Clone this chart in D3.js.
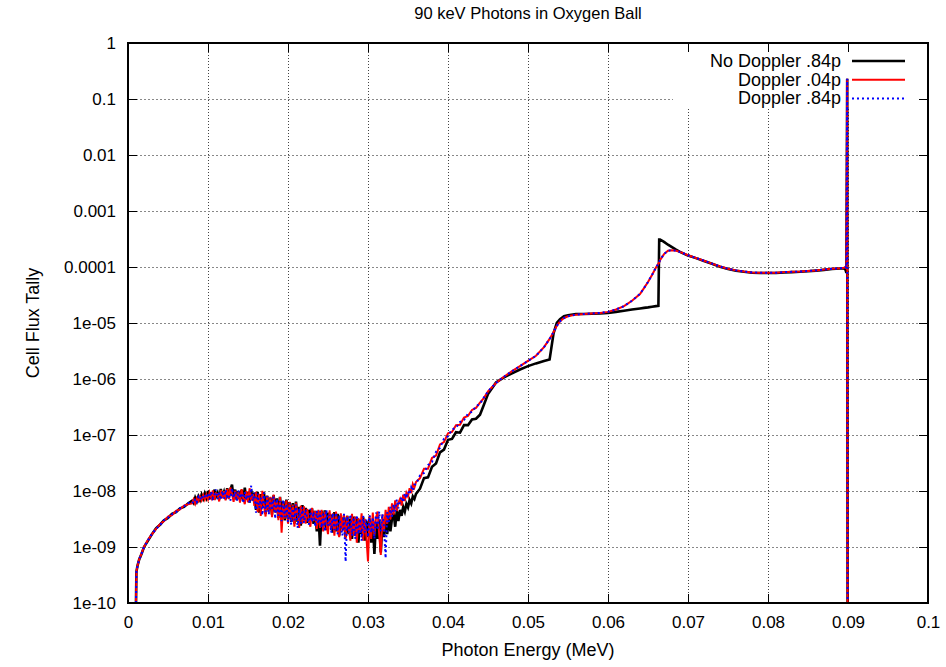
<!DOCTYPE html>
<html>
<head>
<meta charset="utf-8">
<script src="https://cdn.jsdelivr.net/npm/d3@7"></script>
<style>
body { margin: 0; background: #fff; }
svg { display: block; font-family: "Liberation Sans", Arial, Helvetica, sans-serif; }
</style>
</head>
<body>
<script>
//////////////////////////////////////////////// DATA ////////////////////////////////////////////////

// photon energy (MeV) of each tally point
var energy = [
    // low end
    0.0010, 0.00105, 0.0012, 0.0014, 0.0017, 0.0020, 0.0025, 0.0030, 0.0035, 0.0040,
    0.0045, 0.0050, 0.0055, 0.0060, 0.0065, 0.0070, 0.0075,
    // noisy region
    0.0080, 0.0082, 0.0084, 0.0086, 0.0088, 0.0090, 0.0092, 0.0094, 0.0096, 0.0098,
    0.0100, 0.0102, 0.0104, 0.0106, 0.0108, 0.0110, 0.0112, 0.0114, 0.0116, 0.0118,
    0.0120, 0.0122, 0.0124, 0.0126, 0.0128, 0.0130, 0.0132, 0.0134, 0.0136, 0.0138,
    0.0140, 0.0142, 0.0144, 0.0146, 0.0148, 0.0150, 0.0152, 0.0154, 0.0156, 0.0158,
    0.0160, 0.0162, 0.0164, 0.0166, 0.0168, 0.0170, 0.0172, 0.0174, 0.0176, 0.0178,
    0.0180, 0.0182, 0.0184, 0.0186, 0.0188, 0.0190, 0.0192, 0.0194, 0.0196, 0.0198,
    0.0200, 0.0202, 0.0204, 0.0206, 0.0208, 0.0210, 0.0212, 0.0214, 0.0216, 0.0218,
    0.0220, 0.0222, 0.0224, 0.0226, 0.0228, 0.0230, 0.0232, 0.0234, 0.0236, 0.0238,
    0.0240, 0.0242, 0.0244, 0.0246, 0.0248, 0.0250, 0.0252, 0.0254, 0.0256, 0.0258,
    0.0260, 0.0262, 0.0264, 0.0266, 0.0268, 0.0270, 0.0272, 0.0274, 0.0276, 0.0278,
    0.0280, 0.0282, 0.0284, 0.0286, 0.0288, 0.0290, 0.0292, 0.0294, 0.0296, 0.0298,
    0.0300, 0.0302, 0.0304, 0.0306, 0.0308, 0.0310, 0.0312, 0.0314, 0.0316, 0.0318,
    0.0320, 0.0322, 0.0324, 0.0326, 0.0328, 0.0330, 0.0332, 0.0334, 0.0336, 0.0338,
    0.0340, 0.0342, 0.0344, 0.0346, 0.0348, 0.0350, 0.0352, 0.0354, 0.0356, 0.0358,
    0.0360,
    // rise
    0.0365, 0.0370, 0.0375, 0.0380, 0.0385, 0.0390, 0.0395, 0.0400, 0.0405, 0.0410,
    0.0415, 0.0420, 0.0425, 0.0430, 0.0435, 0.0440, 0.0445, 0.0450,
    // smooth part up to the source line
    0.046, 0.047, 0.048, 0.049, 0.050, 0.051, 0.052, 0.0527, 0.0532, 0.0536,
    0.054, 0.0545, 0.055, 0.056, 0.057, 0.058, 0.059, 0.060, 0.061, 0.062,
    0.063, 0.064, 0.0645, 0.065, 0.0655, 0.066, 0.0663, 0.0664, 0.0665, 0.067,
    0.0675, 0.068, 0.0685, 0.069, 0.070, 0.071, 0.072, 0.073, 0.074, 0.075,
    0.076, 0.077, 0.078, 0.079, 0.080, 0.081, 0.082, 0.083, 0.084, 0.085,
    0.086, 0.087, 0.088, 0.089, 0.0895, 0.0897, 0.0898, 0.0899, 0.08995
];

var noDoppler = [
    1e-10, 3.6e-10, 4.7e-10, 6.0e-10, 7.6e-10, 1.0e-9, 1.3e-9, 1.7e-9, 2.15e-9, 2.5e-9,
    3.0e-9, 3.3e-9, 3.9e-9, 4.2e-9, 4.9e-9, 5.2e-9, 6.0e-9,

    6.7e-9, 6.1e-9, 7.6e-9, 6.5e-9, 8.0e-9, 6.9e-9, 8.6e-9, 7.3e-9, 9.1e-9, 7.6e-9,
    10.0e-9, 7.3e-9, 9.5e-9, 7.0e-9, 10.6e-9, 8.0e-9, 9.3e-9, 7.1e-9, 10.9e-9, 7.8e-9,
    9.6e-9, 7.2e-9, 11.2e-9, 7.6e-9, 10.4e-9, 13.0e-9, 7.4e-9, 10.6e-9, 6.9e-9, 9.9e-9,
    7.2e-9, 10.4e-9, 6.6e-9, 11.5e-9, 7.0e-9, 9.6e-9, 6.2e-9, 10.2e-9, 6.8e-9, 9.3e-9,
    4.6e-9, 9.7e-9, 4.1e-9, 8.8e-9, 5.0e-9, 9.5e-9, 3.9e-9, 8.2e-9, 4.5e-9, 7.6e-9,
    3.8e-9, 8.4e-9, 4.2e-9, 7.4e-9, 3.3e-9, 7.9e-9, 3.5e-9, 6.6e-9, 3.0e-9, 7.0e-9,
    3.2e-9, 6.3e-9, 2.8e-9, 6.1e-9, 2.6e-9, 6.5e-9, 2.8e-9, 5.2e-9, 2.4e-9, 5.6e-9,
    3.0e-9, 5.0e-9, 2.7e-9, 4.6e-9, 3.3e-9, 4.9e-9, 2.6e-9, 4.4e-9, 1.9e-9, 4.2e-9,
    1.05e-9, 4.4e-9, 2.3e-9, 4.5e-9, 2.0e-9, 4.1e-9, 2.4e-9, 3.8e-9, 1.8e-9, 4.2e-9,
    1.9e-9, 3.9e-9, 1.6e-9, 3.7e-9, 2.1e-9, 3.4e-9, 1.5e-9, 3.6e-9, 1.7e-9, 3.2e-9,
    1.4e-9, 3.5e-9, 1.6e-9, 3.2e-9, 1.2e-9, 3.1e-9, 1.7e-9, 3.4e-9, 1.3e-9, 2.9e-9,
    1.5e-9, 3.2e-9, 1.2e-9, 3.0e-9, 0.75e-9, 2.8e-9, 1.4e-9, 3.1e-9, 0.8e-9, 2.7e-9,
    1.5e-9, 3.3e-9, 1.7e-9, 3.6e-9, 1.9e-9, 3.2e-9, 4.0e-9, 2.3e-9, 4.4e-9, 2.9e-9,
    4.6e-9, 3.6e-9, 5.2e-9, 4.3e-9, 5.9e-9, 5.1e-9, 6.9e-9, 6.0e-9, 8.0e-9, 7.2e-9,
    8.9e-9,

    1.1e-8, 1.7e-8, 1.75e-8, 2.7e-8, 3.1e-8, 4.9e-8, 5.5e-8, 8.2e-8, 8.5e-8, 1.12e-7,
    1.1e-7, 1.5e-7, 1.5e-7, 1.9e-7, 1.95e-7, 2.3e-7, 3.5e-7, 5.4e-7,

    8.7e-7, 1.07e-6, 1.26e-6, 1.48e-6, 1.7e-6, 1.9e-6, 2.1e-6, 2.24e-6, 6.6e-6, 1.0e-5,
    1.17e-5, 1.32e-5, 1.38e-5, 1.45e-5, 1.45e-5, 1.46e-5, 1.48e-5, 1.51e-5, 1.58e-5, 1.66e-5,
    1.74e-5, 1.82e-5, 1.86e-5, 1.9e-5, 1.95e-5, 2.0e-5, 2.02e-5, 3.1e-4, 3.1e-4, 2.8e-4,
    2.5e-4, 2.26e-4, 2.04e-4, 1.86e-4, 1.6e-4, 1.44e-4, 1.28e-4, 1.14e-4, 1.01e-4, 9.2e-5,
    8.6e-5, 8.2e-5, 7.9e-5, 7.8e-5, 7.8e-5, 7.8e-5, 8.0e-5, 8.1e-5, 8.2e-5, 8.4e-5,
    8.6e-5, 8.9e-5, 9.2e-5, 9.4e-5, 9.4e-5, 8.9e-5, 7.8e-5, 0.23, 1e-10
];

var doppler04 = [
    1e-10, 3.6e-10, 4.7e-10, 6.0e-10, 7.7e-10, 1.0e-9, 1.35e-9, 1.7e-9, 2.1e-9, 2.55e-9,
    2.9e-9, 3.5e-9, 3.7e-9, 4.4e-9, 4.7e-9, 5.5e-9, 5.8e-9,

    6.0e-9, 7.1e-9, 5.9e-9, 7.4e-9, 6.6e-9, 7.9e-9, 6.8e-9, 8.4e-9, 7.0e-9, 8.6e-9,
    7.1e-9, 9.4e-9, 7.6e-9, 10.2e-9, 6.9e-9, 9.1e-9, 8.8e-9, 6.5e-9, 10.4e-9, 7.4e-9,
    9.9e-9, 6.8e-9, 10.9e-9, 7.2e-9, 11.6e-9, 8.9e-9, 6.4e-9, 10.1e-9, 7.0e-9, 9.6e-9,
    6.2e-9, 10.8e-9, 7.4e-9, 5.8e-9, 9.9e-9, 6.3e-9, 11.2e-9, 6.9e-9, 8.8e-9, 5.4e-9,
    9.7e-9, 4.2e-9, 8.9e-9, 3.6e-9, 10.1e-9, 5.4e-9, 3.5e-9, 8.3e-9, 4.1e-9, 7.9e-9,
    3.4e-9, 8.6e-9, 4.1e-9, 6.9e-9, 3.0e-9, 7.8e-9, 1.8e-9, 6.1e-9, 3.2e-9, 6.8e-9,
    2.6e-9, 6.4e-9, 2.9e-9, 5.7e-9, 2.3e-9, 6.2e-9, 3.7e-9, 2.2e-9, 5.5e-9, 2.6e-9,
    5.3e-9, 2.6e-9, 4.8e-9, 3.1e-9, 2.3e-9, 5.0e-9, 2.9e-9, 4.4e-9, 2.1e-9, 4.6e-9,
    2.2e-9, 4.6e-9, 1.9e-9, 4.3e-9, 2.6e-9, 1.7e-9, 4.5e-9, 2.0e-9, 4.0e-9, 1.6e-9,
    4.3e-9, 2.1e-9, 1.5e-9, 4.0e-9, 1.9e-9, 3.8e-9, 1.4e-9, 3.6e-9, 2.2e-9, 1.3e-9,
    3.9e-9, 1.6e-9, 3.5e-9, 1.2e-9, 3.3e-9, 1.8e-9, 4.0e-9, 1.3e-9, 3.2e-9, 1.5e-9,
    0.55e-9, 3.6e-9, 1.4e-9, 4.1e-9, 1.6e-9, 3.3e-9, 4.3e-9, 1.7e-9, 0.72e-9, 3.8e-9,
    1.9e-9, 4.6e-9, 2.6e-9, 5.2e-9, 3.1e-9, 6.0e-9, 3.8e-9, 6.8e-9, 4.4e-9, 6.2e-9,
    7.2e-9, 5.5e-9, 8.6e-9, 6.6e-9, 9.3e-9, 8.0e-9, 11.2e-9, 9.1e-9, 13.4e-9, 11.5e-9,
    14.5e-9,

    1.7e-8, 2.5e-8, 2.5e-8, 3.9e-8, 4.3e-8, 6.8e-8, 7.5e-8, 1.07e-7, 1.13e-7, 1.5e-7,
    1.52e-7, 2.05e-7, 2.2e-7, 2.8e-7, 3.05e-7, 3.8e-7, 4.6e-7, 6.0e-7,

    8.5e-7, 1.1e-6, 1.38e-6, 1.7e-6, 2.1e-6, 2.6e-6, 3.7e-6, 5.2e-6, 6.9e-6, 8.9e-6,
    1.07e-5, 1.23e-5, 1.32e-5, 1.41e-5, 1.45e-5, 1.48e-5, 1.51e-5, 1.58e-5, 1.74e-5, 2.0e-5,
    2.5e-5, 3.3e-5, 4.2e-5, 5.4e-5, 7.2e-5, 9.8e-5, 1.15e-4, 1.2e-4, 1.32e-4, 1.7e-4,
    1.95e-4, 2.0e-4, 1.95e-4, 1.86e-4, 1.62e-4, 1.45e-4, 1.29e-4, 1.15e-4, 1.02e-4, 9.3e-5,
    8.7e-5, 8.3e-5, 8.0e-5, 7.9e-5, 7.9e-5, 7.9e-5, 8.1e-5, 8.2e-5, 8.3e-5, 8.5e-5,
    8.7e-5, 9.0e-5, 9.3e-5, 9.5e-5, 9.7e-5, 1.0e-4, 9.5e-5, 0.23, 1e-10
];

var doppler84 = [
    1e-10, 3.6e-10, 4.7e-10, 6.0e-10, 7.6e-10, 1.0e-9, 1.32e-9, 1.72e-9, 2.1e-9, 2.45e-9,
    3.0e-9, 3.35e-9, 3.85e-9, 4.2e-9, 4.9e-9, 5.3e-9, 6.0e-9,

    6.5e-9, 6.0e-9, 7.3e-9, 6.4e-9, 7.8e-9, 6.9e-9, 8.3e-9, 7.2e-9, 8.1e-9, 7.5e-9,
    9.2e-9, 7.0e-9, 9.9e-9, 7.4e-9, 8.5e-9, 10.6e-9, 7.2e-9, 9.3e-9, 7.0e-9, 10.0e-9,
    7.3e-9, 10.5e-9, 7.8e-9, 8.4e-9, 6.7e-9, 11.3e-9, 7.5e-9, 9.8e-9, 6.6e-9, 10.2e-9,
    7.4e-9, 9.2e-9, 6.1e-9, 9.6e-9, 7.0e-9, 8.8e-9, 5.9e-9, 12.5e-9, 6.6e-9, 9.4e-9,
    4.1e-9, 9.0e-9, 5.0e-9, 7.6e-9, 3.7e-9, 9.4e-9, 4.2e-9, 8.1e-9, 3.8e-9, 7.4e-9,
    4.5e-9, 7.9e-9, 3.2e-9, 7.3e-9, 3.6e-9, 6.6e-9, 2.9e-9, 7.0e-9, 3.4e-9, 5.9e-9,
    2.8e-9, 6.0e-9, 2.5e-9, 5.4e-9, 3.0e-9, 5.8e-9, 2.2e-9, 4.9e-9, 2.6e-9, 5.1e-9,
    2.7e-9, 4.6e-9, 3.4e-9, 2.5e-9, 4.8e-9, 2.8e-9, 4.2e-9, 2.3e-9, 4.4e-9, 2.6e-9,
    4.4e-9, 2.2e-9, 4.2e-9, 1.9e-9, 4.6e-9, 2.4e-9, 3.8e-9, 1.8e-9, 4.0e-9, 2.0e-9,
    4.1e-9, 1.7e-9, 3.7e-9, 2.3e-9, 1.6e-9, 3.9e-9, 0.55e-9, 3.5e-9, 1.8e-9, 3.8e-9,
    1.6e-9, 3.4e-9, 1.4e-9, 3.7e-9, 1.7e-9, 3.2e-9, 1.3e-9, 3.6e-9, 1.8e-9, 3.1e-9,
    1.5e-9, 3.7e-9, 1.8e-9, 3.4e-9, 1.4e-9, 4.1e-9, 2.0e-9, 4.3e-9, 1.9e-9, 3.9e-9,
    2.3e-9, 0.63e-9, 4.2e-9, 2.8e-9, 5.2e-9, 3.5e-9, 5.8e-9, 4.3e-9, 7.0e-9, 4.9e-9,
    6.4e-9, 7.9e-9, 6.3e-9, 9.1e-9, 7.4e-9, 9.8e-9, 8.7e-9, 11.6e-9, 10.1e-9, 12.9e-9,
    13.2e-9,

    1.9e-8, 2.1e-8, 2.9e-8, 3.3e-8, 5.0e-8, 5.9e-8, 8.6e-8, 9.5e-8, 1.25e-7, 1.35e-7,
    1.7e-7, 1.85e-7, 2.4e-7, 2.6e-7, 3.25e-7, 3.6e-7, 4.7e-7, 6.0e-7,

    8.5e-7, 1.1e-6, 1.38e-6, 1.7e-6, 2.1e-6, 2.6e-6, 3.7e-6, 5.2e-6, 6.9e-6, 8.9e-6,
    1.07e-5, 1.23e-5, 1.32e-5, 1.41e-5, 1.45e-5, 1.48e-5, 1.51e-5, 1.58e-5, 1.74e-5, 2.0e-5,
    2.5e-5, 3.3e-5, 4.2e-5, 5.4e-5, 7.2e-5, 9.8e-5, 1.15e-4, 1.2e-4, 1.32e-4, 1.7e-4,
    1.95e-4, 2.0e-4, 1.95e-4, 1.86e-4, 1.62e-4, 1.45e-4, 1.29e-4, 1.15e-4, 1.02e-4, 9.3e-5,
    8.7e-5, 8.3e-5, 8.0e-5, 7.9e-5, 7.9e-5, 7.9e-5, 8.1e-5, 8.2e-5, 8.3e-5, 8.5e-5,
    8.7e-5, 9.0e-5, 9.3e-5, 9.5e-5, 9.7e-5, 1.0e-4, 9.5e-5, 0.23, 1e-10
];

var seriesNames = ["No Doppler .84p", "Doppler .04p", "Doppler .84p"];

var xTicks = [0, 0.01, 0.02, 0.03, 0.04, 0.05, 0.06, 0.07, 0.08, 0.09, 0.1];
var xTickLabels = ["0", "0.01", "0.02", "0.03", "0.04", "0.05", "0.06", "0.07", "0.08", "0.09", "0.1"];
var yTicks = [1, 0.1, 0.01, 0.001, 1e-4, 1e-5, 1e-6, 1e-7, 1e-8, 1e-9, 1e-10];
var yTickLabels = ["1", "0.1", "0.01", "0.001", "0.0001", "1e-05", "1e-06", "1e-07", "1e-08", "1e-09", "1e-10"];

//////////////////////////////////////////////// SETUP ////////////////////////////////////////////////
var width = 946,
    height = 667,
    plotLeft = 128,
    plotRight = 928,
    plotTop = 43,
    plotBottom = 603,
    tickLen = 9,
    fontSize = "17px";

var svg = d3.select("body").append("svg")
    .attr("width", width)
    .attr("height", height);

var x = d3.scaleLinear().domain([0, 0.1]).range([plotLeft, plotRight]);
var y = d3.scaleLog().domain([1e-10, 1]).range([plotBottom, plotTop]);

function zipSeries(values) {
    if (values.length != energy.length) console.warn("length mismatch", values.length, energy.length);
    var n = Math.min(values.length, energy.length);
    var pts = [];
    for (var i = 0; i < n; i++) pts.push([energy[i], values[i]]);
    return pts;
}

var series = [
    { name: seriesNames[0], points: zipSeries(noDoppler), color: "#000", width: 2.6, dash: null },
    { name: seriesNames[1], points: zipSeries(doppler04), color: "#ff0000", width: 2, dash: null },
    { name: seriesNames[2], points: zipSeries(doppler84), color: "#0000ff", width: 2, dash: "2,3" }
];

//////////////////////////////////////////////// GRID ////////////////////////////////////////////////
var grid = svg.append("g");
grid.selectAll(".vgrid")
    .data(xTicks.slice(1, -1))
    .enter().append("line")
    .attr("x1", function (d) { return Math.round(x(d)) + 0.5; })
    .attr("x2", function (d) { return Math.round(x(d)) + 0.5; })
    .attr("y1", plotTop).attr("y2", plotBottom)
    .attr("stroke", "#444")
    .attr("stroke-width", 1)
    .attr("stroke-dasharray", "1,2");
grid.selectAll(".hgrid")
    .data(yTicks.slice(1, -1))
    .enter().append("line")
    .attr("x1", plotLeft).attr("x2", plotRight)
    .attr("y1", function (d) { return Math.round(y(d)) + 0.5; })
    .attr("y2", function (d) { return Math.round(y(d)) + 0.5; })
    .attr("stroke", "#888")
    .attr("stroke-width", 1)
    .attr("stroke-dasharray", "2,2");

// key background hides the grid behind it
svg.append("rect")
    .attr("x", 673).attr("y", plotTop)
    .attr("width", plotRight - 673).attr("height", 108 - plotTop)
    .attr("fill", "#fff");

//////////////////////////////////////////////// AXES ////////////////////////////////////////////////
function styleAxis(g) {
    g.select(".domain").remove();
    g.selectAll(".tick line").attr("stroke", "#000").attr("stroke-width", 1);
    g.selectAll(".tick text").attr("font-size", fontSize).attr("fill", "#000")
        .attr("font-family", "Liberation Sans, Arial, Helvetica, sans-serif");
}

svg.append("g")
    .attr("transform", "translate(" + plotLeft + ",0)")
    .call(d3.axisLeft(y).tickValues(yTicks).tickSize(-tickLen).tickPadding(12)
        .tickFormat(function (d, i) { return yTickLabels[i]; }))
    .call(styleAxis);

svg.append("g")
    .attr("transform", "translate(" + plotRight + ",0)")
    .call(d3.axisRight(y).tickValues(yTicks).tickSize(-tickLen).tickFormat(""))
    .call(styleAxis);

svg.append("g")
    .attr("transform", "translate(0," + plotBottom + ")")
    .call(d3.axisBottom(x).tickValues(xTicks).tickSize(-tickLen).tickPadding(13)
        .tickFormat(function (d, i) { return xTickLabels[i]; }))
    .call(styleAxis);

svg.append("g")
    .attr("transform", "translate(0," + plotTop + ")")
    .call(d3.axisTop(x).tickValues(xTicks).tickSize(-tickLen).tickFormat(""))
    .call(styleAxis);

//////////////////////////////////////////////// LINES ////////////////////////////////////////////////
svg.append("clipPath").attr("id", "plotclip")
    .append("rect")
    .attr("x", plotLeft).attr("y", plotTop - 1)
    .attr("width", plotRight - plotLeft).attr("height", plotBottom - plotTop + 1);

var line = d3.line()
    .x(function (d) { return x(d[0]); })
    .y(function (d) { return y(Math.max(d[1], 1e-10)); });

svg.append("g")
    .attr("clip-path", "url(#plotclip)")
    .selectAll("path")
    .data(series)
    .enter().append("path")
    .attr("d", function (d) { return line(d.points); })
    .attr("fill", "none")
    .attr("stroke", function (d) { return d.color; })
    .attr("stroke-width", function (d) { return d.width; })
    .attr("stroke-dasharray", function (d) { return d.dash; });

// border
svg.append("rect")
    .attr("x", plotLeft).attr("y", plotTop)
    .attr("width", plotRight - plotLeft).attr("height", plotBottom - plotTop)
    .attr("fill", "none")
    .attr("stroke", "#000")
    .attr("stroke-width", 2);

//////////////////////////////////////////////// KEY ////////////////////////////////////////////////
var key = svg.append("g");
var keyRows = key.selectAll("g")
    .data(series)
    .enter().append("g")
    .attr("transform", function (d, i) { return "translate(0," + (61 + i * 18.7) + ")"; });
keyRows.append("text")
    .attr("x", 841)
    .attr("y", 6)
    .attr("text-anchor", "end")
    .attr("font-size", "18px")
    .text(function (d) { return d.name; });
keyRows.append("line")
    .attr("x1", 852).attr("x2", 905)
    .attr("y1", 0).attr("y2", 0)
    .attr("stroke", function (d) { return d.color; })
    .attr("stroke-width", function (d) { return d.width; })
    .attr("stroke-dasharray", function (d) { return d.dash; });

//////////////////////////////////////////////// LABELS ////////////////////////////////////////////////
svg.append("text")
    .attr("x", (plotLeft + plotRight) / 2)
    .attr("y", 19)
    .attr("text-anchor", "middle")
    .attr("font-size", "16.5px")
    .text("90 keV Photons in Oxygen Ball");

svg.append("text")
    .attr("x", (plotLeft + plotRight) / 2)
    .attr("y", 656)
    .attr("text-anchor", "middle")
    .attr("font-size", "18px")
    .text("Photon Energy (MeV)");

svg.append("text")
    .attr("transform", "translate(39," + (plotTop + plotBottom) / 2 + ") rotate(-90)")
    .attr("text-anchor", "middle")
    .attr("font-size", "18px")
    .text("Cell Flux Tally");
</script>
</body>
</html>
